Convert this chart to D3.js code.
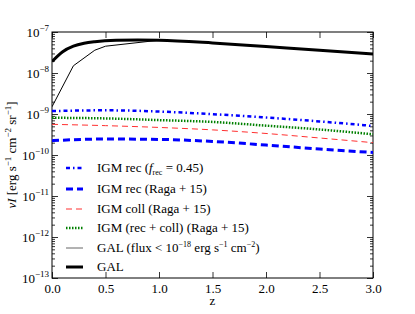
<!DOCTYPE html>
<html>
<head>
<meta charset="utf-8">
<script src="https://cdn.jsdelivr.net/npm/d3@7"></script>
<style>
  body { margin: 0; background: #fff; }
  text { font-family: "Liberation Serif", "DejaVu Serif", serif; fill: #000; }
</style>
</head>
<body>
<svg id="chart" width="415" height="314"></svg>
<script>
// redshift grid for the IGM curves
var zIgm = [0, 0.5, 1.0, 1.5, 2.0, 2.5, 3.0];
var igmRecF = [1.18e-9, 1.23e-9, 1.15e-9, 9.9e-10, 8.2e-10, 6.6e-10, 5.1e-10];
var igmRecRaga = [2.24e-10, 2.45e-10, 2.4e-10, 2.14e-10, 1.75e-10, 1.4e-10, 1.15e-10];
var igmColl = [5.6e-10, 5.2e-10, 4.7e-10, 4.1e-10, 3.35e-10, 2.6e-10, 2.0e-10];
var igmSum = [8.1e-10, 7.8e-10, 7.1e-10, 6.4e-10, 5.2e-10, 4.2e-10, 3.2e-10];

var zGal = [0, 0.1, 0.2, 0.3, 0.4, 0.6, 0.8, 1.0, 1.5, 2.0, 2.5, 3.0];
var gal = [1.9e-8, 3.3e-8, 4.5e-8, 5.3e-8, 5.8e-8, 6.3e-8, 6.4e-8, 6.3e-8, 5.4e-8, 4.4e-8, 3.6e-8, 2.9e-8];

var zGalCut = [0, 0.2, 0.4, 0.5, 1.0, 1.5, 2.0, 2.5, 3.0];
var galCut = [1.5e-9, 1.5e-8, 3.6e-8, 4.5e-8, 6.3e-8, 5.4e-8, 4.4e-8, 3.6e-8, 2.9e-8];

var xTicks = [0, 0.5, 1.0, 1.5, 2.0, 2.5, 3.0];
var yExps = [-13, -12, -11, -10, -9, -8, -7];

var svg = d3.select("#chart");
var pL = 52, pR = 373, pT = 32, pB = 278;

var x = d3.scaleLinear().domain([0, 3]).range([pL, pR]);
var y = d3.scaleLog().domain([1e-13, 1e-7]).range([pB, pT]);

// minor log ticks
var minor = [];
yExps.slice(0, -1).forEach(function (e) {
    for (var k = 2; k <= 9; k++) minor.push(k * Math.pow(10, e));
});
var major = yExps.map(function (e) { return Math.pow(10, e); });

// left axis
var gl = svg.append("g").attr("transform", "translate(" + pL + ",0)");
gl.call(d3.axisLeft(y).tickValues(minor).tickSizeInner(-3).tickSizeOuter(0).tickFormat(""));
gl.append("g").call(d3.axisLeft(y).tickValues(major)
    .tickSizeInner(-6).tickSizeOuter(0).tickFormat(""));

// right axis
var gr = svg.append("g").attr("transform", "translate(" + pR + ",0)");
gr.call(d3.axisRight(y).tickValues(minor).tickSizeInner(-3).tickSizeOuter(0).tickFormat(""));
gr.append("g").call(d3.axisRight(y).tickValues(major)
    .tickSizeInner(-6).tickSizeOuter(0).tickFormat(""));

// bottom + top axes
var gb = svg.append("g").attr("transform", "translate(0," + pB + ")");
gb.call(d3.axisBottom(x).tickValues(xTicks).tickSizeInner(-6).tickSizeOuter(0).tickPadding(6)
    .tickFormat(d3.format(".1f")));
var gt = svg.append("g").attr("transform", "translate(0," + pT + ")");
gt.call(d3.axisTop(x).tickValues(xTicks).tickSizeInner(-6).tickSizeOuter(0).tickFormat(""));

svg.selectAll(".domain").remove();
svg.selectAll(".tick line").attr("stroke", "#000").attr("stroke-width", 0.8);
gb.selectAll(".tick text").attr("font-size", 13).attr("font-family", "Liberation Serif");

// y tick labels with superscripts
yExps.forEach(function (e) {
    var t = svg.append("text")
        .attr("x", pL - 3)
        .attr("y", y(Math.pow(10, e)) + 5)
        .attr("text-anchor", "end")
        .attr("font-size", 13);
    t.append("tspan").text("10");
    t.append("tspan").attr("dy", -6).attr("font-size", 9).text("\u2212" + Math.abs(e));
});

// frame
svg.append("rect")
    .attr("x", pL).attr("y", pT)
    .attr("width", pR - pL).attr("height", pB - pT)
    .attr("fill", "none").attr("stroke", "#000").attr("stroke-width", 1);

var clip = svg.append("clipPath").attr("id", "clip");
clip.append("rect").attr("x", pL).attr("y", pT).attr("width", pR - pL).attr("height", pB - pT);

var series = [
    { z: zIgm, v: igmRecF, color: "#0000ff", w: 2.5, dash: "4,3,1.5,3" },
    { z: zIgm, v: igmRecRaga, color: "#0000ff", w: 3, dash: "7,4" },
    { z: zIgm, v: igmColl, color: "#ff3030", w: 1, dash: "6,4" },
    { z: zIgm, v: igmSum, color: "#008000", w: 2.5, dash: "1.5,1.5" },
    { z: zGalCut, v: galCut, color: "#000", w: 1, dash: null, linear: true },
    { z: zGal, v: gal, color: "#000", w: 3, dash: null }
];

var plot = svg.append("g").attr("clip-path", "url(#clip)");
series.forEach(function (s) {
    var line = d3.line()
        .x(function (d) { return x(d[0]); })
        .y(function (d) { return y(d[1]); })
        .curve(s.linear ? d3.curveLinear : d3.curveMonotoneX);
    plot.append("path")
        .datum(d3.zip(s.z, s.v))
        .attr("fill", "none")
        .attr("stroke", s.color)
        .attr("stroke-width", s.w)
        .attr("stroke-dasharray", s.dash)
        .attr("d", line);
});

// legend
var legY = [168, 189, 209, 228, 248, 267];
var leg = svg.append("g");
series.forEach(function (s, i) {
    leg.append("line")
        .attr("x1", 66).attr("x2", 83)
        .attr("y1", legY[i]).attr("y2", legY[i])
        .attr("stroke", i == 4 ? "#666" : s.color).attr("stroke-width", s.w)
        .attr("stroke-dasharray", s.dash);
});

function legText(i) {
    return leg.append("text").attr("x", 97).attr("y", legY[i] + 4).attr("font-size", 13);
}
var t0 = legText(0);
t0.append("tspan").text("IGM rec (");
t0.append("tspan").attr("font-style", "italic").text("f");
t0.append("tspan").attr("dy", 3).attr("font-size", 8).text("rec");
t0.append("tspan").attr("dy", -3).text(" = 0.45)");
legText(1).text("IGM rec (Raga + 15)");
legText(2).text("IGM coll (Raga + 15)");
legText(3).text("IGM (rec + coll) (Raga + 15)");
var t4 = legText(4);
t4.append("tspan").text("GAL  (flux < 10");
t4.append("tspan").attr("dy", -5).attr("font-size", 8).text("\u221218");
t4.append("tspan").attr("dy", 5).text(" erg s");
t4.append("tspan").attr("dy", -5).attr("font-size", 8).text("\u22121");
t4.append("tspan").attr("dy", 5).text(" cm");
t4.append("tspan").attr("dy", -5).attr("font-size", 8).text("\u22122");
t4.append("tspan").attr("dy", 5).text(")");
legText(5).text("GAL");

// axis labels
svg.append("text")
    .attr("x", (pL + pR) / 2).attr("y", 305)
    .attr("text-anchor", "middle").attr("font-size", 13)
    .text("z");

var yl = svg.append("text")
    .attr("transform", "translate(16," + (pT + pB) / 2 + ") rotate(-90)")
    .attr("text-anchor", "middle").attr("font-size", 13);
yl.append("tspan").attr("font-style", "italic").text("\u03bdI");
yl.append("tspan").text(" [erg s");
yl.append("tspan").attr("dy", -5).attr("font-size", 9).text("\u22121");
yl.append("tspan").attr("dy", 5).text(" cm");
yl.append("tspan").attr("dy", -5).attr("font-size", 9).text("\u22122");
yl.append("tspan").attr("dy", 5).text(" sr");
yl.append("tspan").attr("dy", -5).attr("font-size", 9).text("\u22121");
yl.append("tspan").attr("dy", 5).text("]");
</script>
</body>
</html>
